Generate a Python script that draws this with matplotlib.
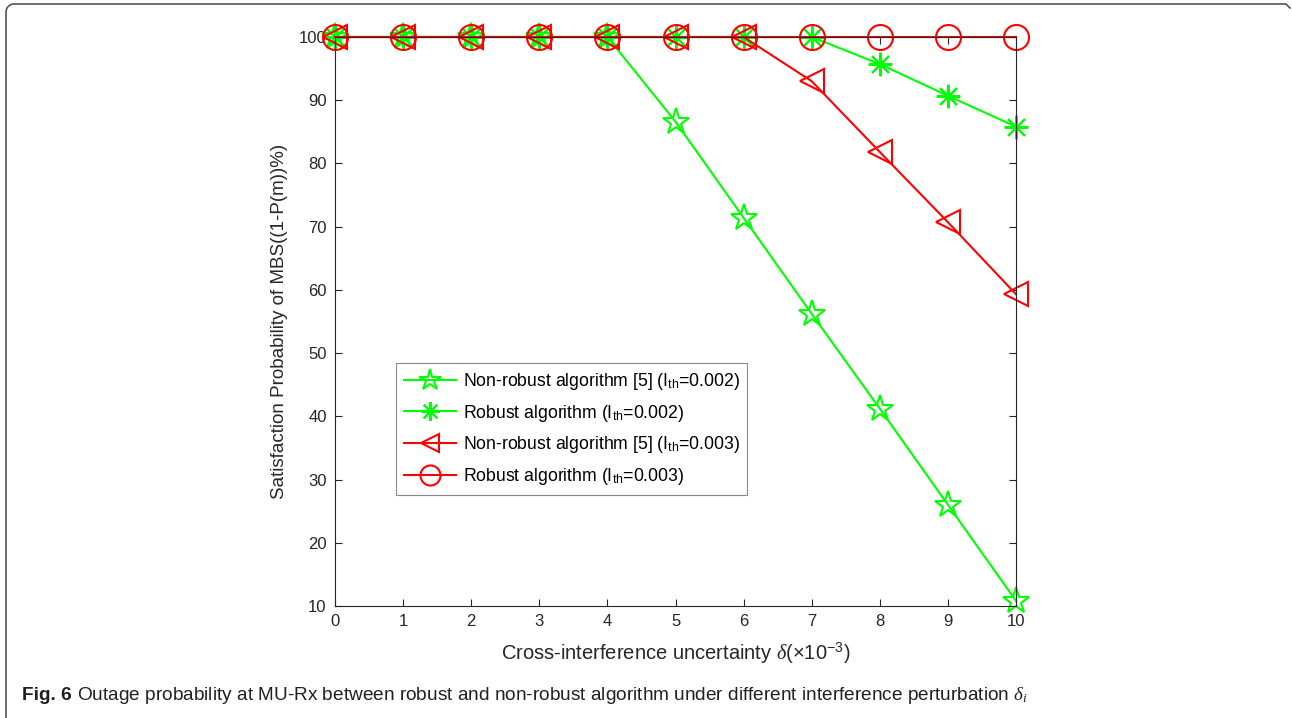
import numpy as np
import matplotlib.pyplot as plt
from matplotlib.lines import Line2D

plt.rcParams['font.family'] = ['Liberation Sans', 'DejaVu Sans']
plt.rcParams['mathtext.fontset'] = 'custom'
plt.rcParams['mathtext.rm'] = 'Liberation Sans'
plt.rcParams['mathtext.sf'] = 'Liberation Sans'
plt.rcParams['mathtext.it'] = 'Liberation Serif:italic'

# data
delta = [0, 1, 2, 3, 4, 5, 6, 7, 8, 9, 10]
nonrobust_002 = [100, 100, 100, 100, 100, 86.6, 71.4, 56.2, 41.2, 26.0, 10.8]
robust_002 = [100, 100, 100, 100, 100, 100, 100, 100, 95.7, 90.7, 85.8]
nonrobust_003 = [100, 100, 100, 100, 100, 100, 100, 93.0, 81.8, 70.7, 59.3]
robust_003 = [100, 100, 100, 100, 100, 100, 100, 100, 100, 100, 100]

labels = [r'Non-robust algorithm [5] (I$_{\mathrm{th}}$=0.002)',
          r'Robust algorithm (I$_{\mathrm{th}}$=0.002)',
          r'Non-robust algorithm [5] (I$_{\mathrm{th}}$=0.003)',
          r'Robust algorithm (I$_{\mathrm{th}}$=0.003)']

green = '#00ff00'
red = '#ff0000'
axcol = '#262626'

fig = plt.figure(figsize=(12.92, 7.18), dpi=100)
ax = fig.add_axes([0.2593, 0.156, 0.5271, 0.7925])

ax.plot(delta, nonrobust_002, color=green, lw=1.5, marker='*', ms=20,
        mfc='none', mew=1.5, label=labels[0], clip_on=False)
ax.plot(delta, robust_002, color=green, lw=1.5, marker=(8, 2, 0), ms=17,
        mew=1.5, label=labels[1], clip_on=False)
ax.plot(delta, nonrobust_003, color=red, lw=1.5, marker='<', ms=17,
        mfc='none', mew=1.5, label=labels[2], clip_on=False)
ax.plot(delta, robust_003, color=red, lw=1.5, marker='o', ms=18,
        mfc='none', mew=1.5, label=labels[3], clip_on=False)

ax.set_xlim(0, 10)
ax.set_ylim(10, 100)
ax.set_xticks(range(0, 11))
ax.set_yticks(range(10, 101, 10))
ax.tick_params(direction='in', length=5, width=0.8, top=True, right=True,
               labelsize=12, colors=axcol, pad=6)
for s in ax.spines.values():
    s.set_color(axcol)
    s.set_linewidth(0.8)

ax.set_xlabel(r'Cross-interference uncertainty $\delta$($\times$10$^{-3}$)',
              fontsize=14.5, color=axcol, labelpad=8)
ax.set_ylabel('Satisfaction Probability of MBS((1-P(m))%)', fontsize=13.5,
              color=axcol, labelpad=8)

leg = ax.legend(loc='upper left', bbox_to_anchor=(0.089, 0.427), fontsize=12.7,
                fancybox=False, edgecolor='#888888', framealpha=1,
                handlelength=3.0, borderpad=0.45, labelspacing=0.6,
                handletextpad=0.35, borderaxespad=0, markerscale=0.8)
leg.get_frame().set_linewidth(0.8)

# journal caption
cap_font = ['Liberation Sans Narrow', 'Liberation Sans', 'DejaVu Sans']
t1 = fig.text(22 / 1292, 1 - 695 / 718, 'Fig. 6', fontsize=13.7, fontweight='bold',
              family=cap_font, va='center', color='#231f20')
fig.canvas.draw()
bb = t1.get_window_extent()
fig.text((bb.x1 + 5) / 1292, 1 - 695 / 718,
         r'Outage probability at MU-Rx between robust and non-robust algorithm '
         r'under different interference perturbation $\delta_i$',
         fontsize=13.7, family=cap_font, va='center', color='#231f20')

# frame around the figure (left and top edges, rounded corner)
th = np.linspace(np.pi, np.pi / 2, 12)
r = 8
cx, cy = 6 + r, 4 + r
xs = [6] + list(cx + r * np.cos(th)) + [1286, 1290]
ys = [718] + list(cy - r * np.sin(th)) + [4, 8]
fig.add_artist(Line2D(np.array(xs) / 1292, 1 - np.array(ys) / 718,
                      color='#555555', lw=1.2, transform=fig.transFigure))

fig.savefig('out.png', dpi=100)
